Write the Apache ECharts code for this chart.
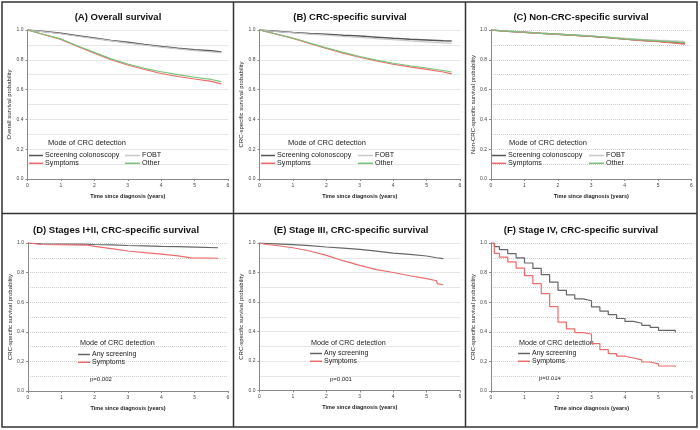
<!DOCTYPE html>
<html>
<head>
<meta charset="utf-8">
<script src="https://cdn.jsdelivr.net/npm/echarts@6/dist/echarts.min.js"></script>
<style>html,body{margin:0;padding:0;background:#fff}#c{width:700px;height:430px}</style>
</head>
<body>
<div id="c"></div>
<script>
// ---------- data ----------
const panelTitles = ['(A) Overall survival', '(B) CRC-specific survival', '(C) Non-CRC-specific survival',
  '(D) Stages I+II, CRC-specific survival', '(E) Stage III, CRC-specific survival', '(F) Stage IV, CRC-specific survival'];
const yAxisNames = ['Overall survival probability', 'CRC-specific survival probability', 'Non-CRC-specific survival probability',
  'CRC-specific survival probability', 'CRC-specific survival probability', 'CRC-specific survival probability'];
const xAxisName = 'Time since diagnosis (years)';
const legendTitle = 'Mode of CRC detection';
const pValues = ['p=0.002', 'p=0.001', 'p=0.014'];
const xTicks = [0, 1, 2, 3, 4, 5, 6];

// Panel A - overall survival
const A_time = [0, 0.5, 1, 1.5, 2, 2.5, 3, 3.5, 4, 4.5, 5, 5.5, 5.8];
const A_screening = [1, 0.99, 0.978, 0.962, 0.946, 0.93, 0.917, 0.902, 0.89, 0.878, 0.868, 0.86, 0.853];
const A_fobt = [1, 0.988, 0.975, 0.958, 0.942, 0.927, 0.912, 0.898, 0.885, 0.873, 0.862, 0.853, 0.848];
const A_symptoms = [1, 0.968, 0.937, 0.89, 0.845, 0.8, 0.765, 0.735, 0.708, 0.688, 0.671, 0.655, 0.638];
const A_other = [1, 0.97, 0.94, 0.893, 0.85, 0.806, 0.772, 0.743, 0.72, 0.7, 0.683, 0.668, 0.653];

// Panel B - CRC-specific survival
const B_time = [0, 0.5, 1, 1.5, 2, 2.5, 3, 3.5, 4, 4.5, 5, 5.5, 5.75];
const B_screening = [1, 0.992, 0.984, 0.977, 0.971, 0.965, 0.96, 0.952, 0.944, 0.938, 0.933, 0.928, 0.926];
const B_fobt = [1, 0.99, 0.981, 0.972, 0.965, 0.957, 0.95, 0.942, 0.935, 0.927, 0.92, 0.913, 0.91];
const B_symptoms = [1, 0.972, 0.944, 0.91, 0.877, 0.845, 0.817, 0.792, 0.77, 0.752, 0.736, 0.718, 0.705];
const B_other = [1, 0.973, 0.946, 0.913, 0.88, 0.85, 0.822, 0.798, 0.777, 0.76, 0.745, 0.728, 0.718];

// Panel C - non-CRC-specific survival
const C_time = [0, 0.5, 1, 1.5, 2, 2.5, 3, 3.5, 4, 4.5, 5, 5.5, 5.8];
const C_screening = [1, 0.992, 0.985, 0.978, 0.972, 0.965, 0.958, 0.95, 0.94, 0.932, 0.925, 0.916, 0.91];
const C_fobt = [1, 0.992, 0.986, 0.979, 0.973, 0.967, 0.96, 0.953, 0.945, 0.938, 0.932, 0.927, 0.924];
const C_symptoms = [1, 0.991, 0.984, 0.977, 0.971, 0.964, 0.957, 0.948, 0.938, 0.929, 0.921, 0.912, 0.905];
const C_other = [1, 0.992, 0.985, 0.978, 0.972, 0.965, 0.958, 0.95, 0.941, 0.934, 0.927, 0.92, 0.915];

// Panel D - stages I+II
const D_screening_time = [0, 0.4, 1.6, 2, 2.5, 3, 3.5, 4, 4.5, 5, 5.7];
const D_screening = [1, 0.995, 0.993, 0.99, 0.987, 0.983, 0.98, 0.977, 0.975, 0.972, 0.968];
const D_symptoms_time = [0, 0.4, 1.8, 2, 2.5, 3, 3.5, 4, 4.5, 4.9, 5.7];
const D_symptoms = [1, 0.99, 0.985, 0.977, 0.962, 0.946, 0.935, 0.925, 0.913, 0.9, 0.897];

// Panel E - stage III
const E_screening_time = [0, 0.2, 0.5, 1, 1.5, 2, 2.5, 3, 3.5, 4, 4.5, 5, 5.3, 5.5];
const E_screening = [1, 0.997, 0.994, 0.989, 0.982, 0.973, 0.965, 0.957, 0.945, 0.932, 0.923, 0.912, 0.9, 0.894];
const E_symptoms_time = [0, 0.2, 0.5, 1, 1.5, 2, 2.5, 3, 3.5, 4, 4.5, 5, 5.3, 5.32, 5.5];
const E_symptoms = [1, 0.99, 0.983, 0.968, 0.946, 0.916, 0.88, 0.848, 0.82, 0.8, 0.778, 0.758, 0.744, 0.724, 0.717];

// Panel F - stage IV
const F_time = [0, 0.1, 0.25, 0.5, 0.75, 1, 1.25, 1.5, 1.75, 2, 2.25, 2.5, 2.75, 3, 3.25, 3.5, 3.75, 4, 4.25, 4.5, 4.75, 5, 5.5];
const F_screening = [1, 0.975, 0.955, 0.928, 0.9, 0.865, 0.828, 0.786, 0.735, 0.68, 0.65, 0.622, 0.61, 0.568, 0.54, 0.516, 0.49, 0.47, 0.458, 0.444, 0.43, 0.41, 0.395];
const F_symptoms = [1, 0.93, 0.905, 0.872, 0.83, 0.78, 0.725, 0.658, 0.57, 0.466, 0.42, 0.395, 0.385, 0.32, 0.28, 0.252, 0.235, 0.223, 0.21, 0.196, 0.183, 0.169, 0.162];

// ---------- styles / layout ----------
const FONT = 'Liberation Sans, Arial, sans-serif';
const COL = { screening: '#555555', fobt: '#c9c9c9', symptoms: '#ee6b6b', other: '#79c279', any: '#666666' };
const grids = [
  { left: 27.5, top: 30, width: 200.5, height: 149 },
  { left: 259.5, top: 30, width: 200.5, height: 149 },
  { left: 491, top: 30, width: 200.5, height: 149 },
  { left: 28, top: 243, width: 200, height: 148 },
  { left: 259.5, top: 243, width: 200.5, height: 147.5 },
  { left: 491, top: 243, width: 201, height: 148 }
];
const titleCenters = [[118, 17], [350, 17], [581, 17], [116, 230], [351, 230], [581, 230]];

function pairs(t, v) { return t.map((x, i) => [x, v[i]]); }
function km(name, t, v, color, width, gi) {
  return {
    type: 'line', name: name, xAxisIndex: gi, yAxisIndex: gi,
    data: pairs(t, v), symbol: 'none', showSymbol: false,
    lineStyle: { color: color, width: width }, itemStyle: { color: color },
    animation: false
  };
}

const series = [
  km('Screening colonoscopy', A_time, A_screening, COL.screening, 1.5, 0),
  km('FOBT', A_time, A_fobt, COL.fobt, 1.2, 0),
  km('Symptoms', A_time, A_symptoms, COL.symptoms, 1.2, 0),
  km('Other', A_time, A_other, COL.other, 1.2, 0),
  km('Screening colonoscopy', B_time, B_screening, COL.screening, 1.5, 1),
  km('FOBT', B_time, B_fobt, COL.fobt, 1.2, 1),
  km('Symptoms', B_time, B_symptoms, COL.symptoms, 1.2, 1),
  km('Other', B_time, B_other, COL.other, 1.2, 1),
  km('Screening colonoscopy', C_time, C_screening, COL.screening, 1.5, 2),
  km('FOBT', C_time, C_fobt, COL.fobt, 1.2, 2),
  km('Symptoms', C_time, C_symptoms, COL.symptoms, 1.2, 2),
  km('Other', C_time, C_other, COL.other, 1.2, 2),
  km('Any screening', D_screening_time, D_screening, COL.any, 1.2, 3),
  km('Symptoms', D_symptoms_time, D_symptoms, COL.symptoms, 1.2, 3),
  km('Any screening', E_screening_time, E_screening, COL.any, 1.2, 4),
  km('Symptoms', E_symptoms_time, E_symptoms, COL.symptoms, 1.2, 4),
  Object.assign(km('Any screening', F_time, F_screening, COL.any, 1.2, 5), { step: 'end' }),
  Object.assign(km('Symptoms', F_time, F_symptoms, COL.symptoms, 1.2, 5), { step: 'end' })
];

const xAxes = grids.map((g, i) => ({
  gridIndex: i, type: 'value', min: xTicks[0], max: xTicks[xTicks.length - 1], interval: 1,
  axisLine: { show: true, onZero: false, lineStyle: { color: '#8a8a8a', width: 1 } },
  axisTick: { show: true, length: 2, lineStyle: { color: '#8a8a8a' } },
  axisLabel: { fontSize: 5, color: '#444', margin: 4, fontFamily: FONT },
  splitLine: { show: false },
  name: xAxisName, nameLocation: 'middle', nameGap: 14,
  nameTextStyle: { fontSize: 5.5, fontWeight: 'bold', color: '#222', fontFamily: FONT }
}));
const yAxes = grids.map((g, i) => ({
  gridIndex: i, type: 'value', min: 0, max: 1, interval: 0.2,
  axisLine: { show: true, lineStyle: { color: '#8a8a8a', width: 1 } },
  axisTick: { show: true, length: 2, lineStyle: { color: '#8a8a8a' } },
  axisLabel: { fontSize: 5, color: '#444', margin: 4, fontFamily: FONT, formatter: v => v.toFixed(1) },
  splitLine: { show: true, lineStyle: { type: 'dotted', color: '#cfcfcf', width: 1 } },
  minorTick: { show: false, splitNumber: 2 },
  minorSplitLine: { show: true, lineStyle: { type: 'dotted', color: '#cfcfcf', width: 1 } },
  name: yAxisNames[i], nameLocation: 'middle', nameGap: 15,
  nameTextStyle: { fontSize: 6, color: '#222', fontFamily: FONT }
}));

function legend(left, top, names, itemWidth, fs) {
  return {
    orient: 'vertical', left: left, top: top, data: names, icon: 'rect',
    itemWidth: itemWidth, itemHeight: 1.5, itemGap: 0.8, padding: 0, selectedMode: false,
    textStyle: { fontSize: fs, color: '#222', fontFamily: FONT, padding: [0, 0, 0, -3] }
  };
}
const legends = [
  legend(29, 152, ['Screening colonoscopy', 'Symptoms'], 14, 7.2),
  legend(125, 152, ['FOBT', 'Other'], 15, 7.2),
  legend(261, 152, ['Screening colonoscopy', 'Symptoms'], 14, 7.2),
  legend(358, 152, ['FOBT', 'Other'], 15, 7.2),
  legend(492, 152, ['Screening colonoscopy', 'Symptoms'], 14, 7.2),
  legend(589, 152, ['FOBT', 'Other'], 15, 7.2),
  legend(78, 351, ['Any screening', 'Symptoms'], 12, 7),
  legend(310, 350, ['Any screening', 'Symptoms'], 12, 7),
  legend(518, 350, ['Any screening', 'Symptoms'], 12, 7)
];

const graphics = [];
// panel frames
graphics.push({ type: 'rect', shape: { x: 2, y: 2, width: 695, height: 425 }, style: { fill: 'none', stroke: '#333', lineWidth: 1.5 }, silent: true });
graphics.push({ type: 'line', shape: { x1: 233.5, y1: 2, x2: 233.5, y2: 427 }, style: { stroke: '#333', lineWidth: 1.5 }, silent: true });
graphics.push({ type: 'line', shape: { x1: 465.5, y1: 2, x2: 465.5, y2: 427 }, style: { stroke: '#333', lineWidth: 1.5 }, silent: true });
graphics.push({ type: 'line', shape: { x1: 2, y1: 213.5, x2: 697, y2: 213.5 }, style: { stroke: '#333', lineWidth: 1.5 }, silent: true });
// titles
panelTitles.forEach((t, i) => {
  graphics.push({ type: 'text', x: titleCenters[i][0], y: titleCenters[i][1], silent: true,
    style: { text: t, fontSize: 9.5, fontWeight: 'bold', fill: '#111', fontFamily: FONT, align: 'center', verticalAlign: 'middle' } });
});
// legend titles
[[48, 143, 7.5], [288, 143, 7.5], [509, 143, 7.5], [80, 343, 7.2], [311, 343, 7.2], [519, 343, 7.2]].forEach(p => {
  graphics.push({ type: 'text', x: p[0], y: p[1], silent: true,
    style: { text: legendTitle, fontSize: p[2], fill: '#222', fontFamily: FONT, align: 'left', verticalAlign: 'middle' } });
});
// p-values
[[90, 379], [330, 379], [539, 378]].forEach((p, i) => {
  graphics.push({ type: 'text', x: p[0], y: p[1], silent: true,
    style: { text: pValues[i], fontSize: 6, fill: '#222', fontFamily: FONT, align: 'left', verticalAlign: 'middle' } });
});

const chart = echarts.init(document.getElementById('c'), null, { renderer: 'canvas' });
chart.setOption({
  animation: false,
  backgroundColor: '#fff',
  textStyle: { fontFamily: FONT },
  grid: grids.map(g => Object.assign({ containLabel: false }, g)),
  xAxis: xAxes,
  yAxis: yAxes,
  legend: legends,
  series: series,
  graphic: graphics
});
</script>
</body>
</html>
